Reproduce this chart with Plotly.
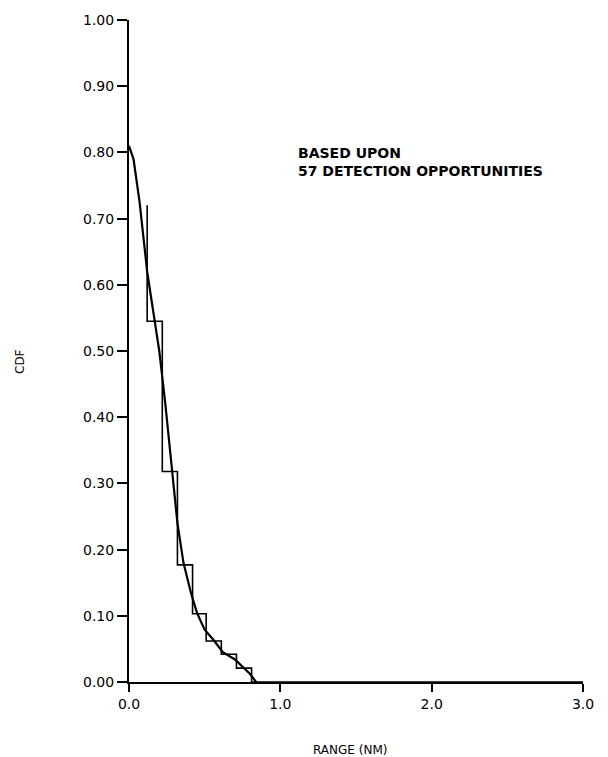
import plotly.graph_objects as go

step_range = [0.12, 0.22, 0.32, 0.42, 0.51, 0.61, 0.71, 0.81, 3.0]
step_cdf = [0.72, 0.545, 0.318, 0.177, 0.103, 0.062, 0.042, 0.021, 0.0]

# Smooth fitted curve
fit_range = [0.0, 0.03, 0.07, 0.12, 0.16, 0.20, 0.24, 0.28, 0.32, 0.36, 0.41, 0.45,
             0.50, 0.56, 0.62, 0.70, 0.75, 0.80, 0.84]
fit_cdf = [0.81, 0.79, 0.725, 0.62, 0.56, 0.50, 0.42, 0.33, 0.24, 0.18, 0.134, 0.104,
           0.079, 0.063, 0.045, 0.034, 0.023, 0.012, 0.0]

y_ticks = [0.0, 0.1, 0.2, 0.3, 0.4, 0.5, 0.6, 0.7, 0.8, 0.9, 1.0]
x_ticks = [0.0, 1.0, 2.0, 3.0]

FONT = "DejaVu Sans"

fig = go.Figure()
fig.add_trace(go.Scatter(x=step_range, y=step_cdf, mode="lines",
                         line=dict(color="black", width=1.6, shape="vh"),
                         showlegend=False, hoverinfo="skip", cliponaxis=False))
fig.add_trace(go.Scatter(x=fit_range, y=fit_cdf, mode="lines",
                         line=dict(color="black", width=2.2),
                         showlegend=False, hoverinfo="skip", cliponaxis=False))

fig.update_layout(
    width=608, height=757,
    margin=dict(l=129, r=25, t=20, b=75),
    paper_bgcolor="white", plot_bgcolor="white",
    font=dict(family=FONT, size=13, color="black"),
    xaxis=dict(range=[0, 3], tickvals=x_ticks, tickformat=".1f",
               showgrid=False, zeroline=False, showline=True, linecolor="black",
               linewidth=2, ticks="outside", ticklen=8, tickwidth=1.5,
               tickcolor="black", tickfont=dict(family=FONT, size=14)),
    yaxis=dict(range=[0, 1], tickvals=y_ticks, tickformat=".2f",
               showgrid=False, zeroline=False, showline=True, linecolor="black",
               linewidth=2, ticks="outside", ticklen=10, tickwidth=1.5,
               tickcolor="black", tickfont=dict(family=FONT, size=14)),
    annotations=[
        dict(text="<b>BASED UPON<br>57 DETECTION OPPORTUNITIES</b>",
             xref="paper", yref="paper", x=(296 - 129) / 454, y=(682 - 143) / 662,
             xanchor="left", yanchor="top", align="left", showarrow=False,
             font=dict(family="DejaVu Sans", size=14, color="black")),
        dict(text="CDF", textangle=-90, xref="paper", yref="paper",
             x=(20 - 129) / 454, y=(682 - 362) / 662, xanchor="center",
             yanchor="middle", showarrow=False,
             font=dict(family=FONT, size=12, color="black")),
        dict(text="RANGE (NM)", xref="paper", yref="paper",
             x=(350 - 129) / 454, y=-(750 - 682) / 662, xanchor="center",
             yanchor="middle", showarrow=False,
             font=dict(family=FONT, size=12, color="black")),
    ],
)

fig.write_html("out.html")
